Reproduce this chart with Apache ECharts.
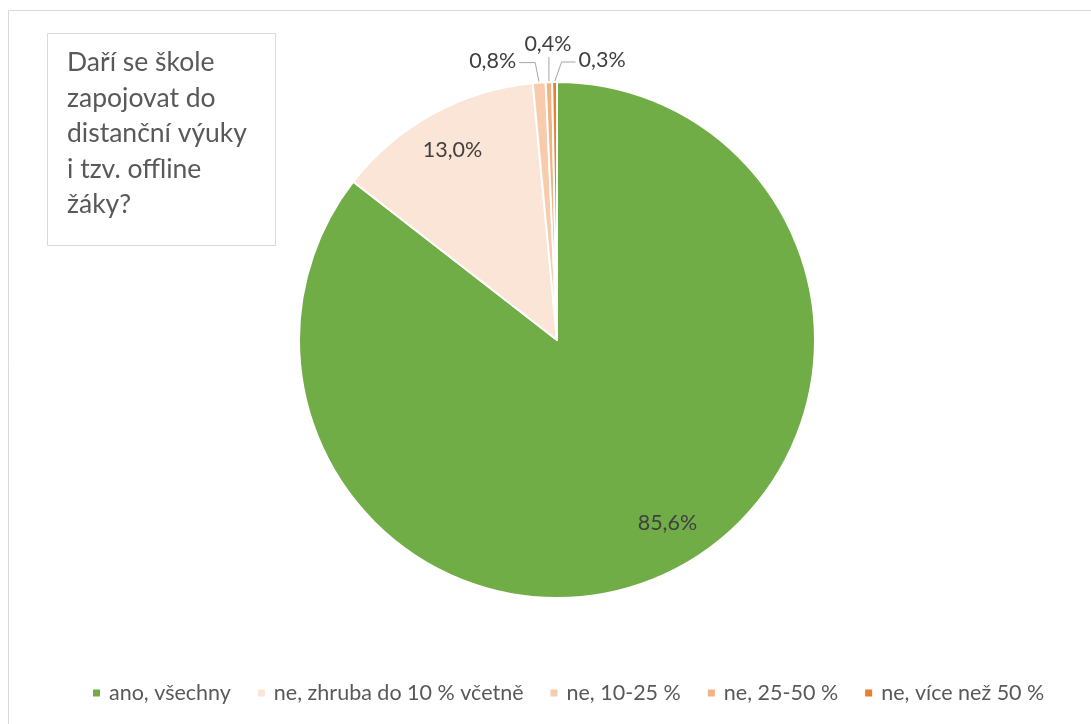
<!DOCTYPE html>
<html>
<head>
<meta charset="utf-8">
<script src="https://cdn.jsdelivr.net/npm/echarts@6/dist/echarts.min.js"></script>
<style>
html, body { margin: 0; padding: 0; background: #fff; }
#chart { width: 1091px; height: 724px; }
</style>
</head>
<body>
<div id="chart"></div>
<script>
var categories = ['ano, všechny', 'ne, zhruba do 10 % včetně', 'ne, 10-25 %', 'ne, 25-50 %', 'ne, více než 50 %'];
var shares = [85.6, 13.0, 0.8, 0.4, 0.3];
var colors = ['#70AD47', '#FBE5D6', '#F8CBAD', '#F4B183', '#ED7D31'];
var titleLines = ['Daří se škole', 'zapojovat do', 'distanční výuky', 'i tzv. offline', 'žáky?'];

var font = 'Lato';
var pieCenter = [557, 340],
	pieRadius = 258;

var fmt = function(p){
	return p.value.toFixed(1).replace('.', ',') + '%';
};

var chart = echarts.init(document.getElementById('chart'));

var mainData = categories.map(function(name, i){
	return {
		name: name,
		value: shares[i],
		itemStyle: {color: colors[i]},
		label: {show: i >= 2},
		labelLine: {show: i >= 2}
	};
});
// transparent ring, only carries the labels of the two big slices
var ringData = categories.map(function(name, i){
	return {
		name: name,
		value: shares[i],
		label: {show: i < 2}
	};
});

var option = {
	animation: false,
	graphic: [{
		type: 'rect',
		shape: {x: 8.5, y: 10.5, width: 1100, height: 730},
		style: {fill: 'none', stroke: '#D9D9D9', lineWidth: 1},
		silent: true
	}],
	title: {
		text: titleLines.join('\n'),
		left: 47,
		top: 33,
		padding: [12, 29, 23, 20],
		borderColor: '#D9D9D9',
		borderWidth: 1,
		textStyle: {
			fontFamily: font,
			fontSize: 26.5,
			lineHeight: 35.5,
			fontWeight: 'normal',
			color: '#595959'
		}
	},
	legend: {
		left: 86,
		top: 677,
		icon: 'rect',
		itemWidth: 9,
		itemHeight: 9,
		itemGap: 25,
		data: categories,
		textStyle: {fontFamily: font, fontSize: 21.5, color: '#595959', padding: [0, 0, 0, 3]}
	},
	series: [{
		type: 'pie',
		center: pieCenter,
		radius: pieRadius,
		startAngle: 90,
		clockwise: true,
		avoidLabelOverlap: false,
		itemStyle: {borderColor: '#fff', borderWidth: 2},
		label: {position: 'outside', formatter: fmt, fontFamily: font, fontSize: 21.5, color: '#404040'},
		labelLine: {lineStyle: {color: '#A6A6A6', width: 1}},
		labelLayout: function(p){
			var pts = p.labelLinePoints;
			if(!pts) return {};
			var s = pts[0];
			if(p.dataIndex == 2){
				return {x: s[0] - 23, y: s[1] - 22, align: 'right', verticalAlign: 'middle',
					labelLinePoints: [[s[0], s[1]], [s[0] - 4, s[1] - 20], [s[0] - 20, s[1] - 20]]};
			}else if(p.dataIndex == 3){
				return {x: s[0] - 1, y: s[1] - 27, align: 'center', verticalAlign: 'bottom',
					labelLinePoints: [[s[0], s[1]], [s[0], s[1] - 12], [s[0], s[1] - 25]]};
			}else if(p.dataIndex == 4){
				return {x: s[0] + 24, y: s[1] - 22, align: 'left', verticalAlign: 'middle',
					labelLinePoints: [[s[0], s[1]], [s[0] + 7, s[1] - 20], [s[0] + 21, s[1] - 20]]};
			}
			return {};
		},
		data: mainData
	}, {
		type: 'pie',
		center: pieCenter,
		radius: [pieRadius * 0.66, pieRadius],
		startAngle: 90,
		clockwise: true,
		silent: true,
		itemStyle: {color: 'rgba(0,0,0,0)', borderWidth: 0},
		label: {position: 'inside', formatter: fmt, fontFamily: font, fontSize: 21.5, color: '#404040'},
		labelLine: {show: false},
		// Excel's best-fit nudges the big label a little towards the right
		labelLayout: function(p){
			return p.dataIndex == 0 ? {dx: 15, dy: -12} : {};
		},
		data: ringData
	}]
};
chart.setOption(option);
</script>
</body>
</html>
